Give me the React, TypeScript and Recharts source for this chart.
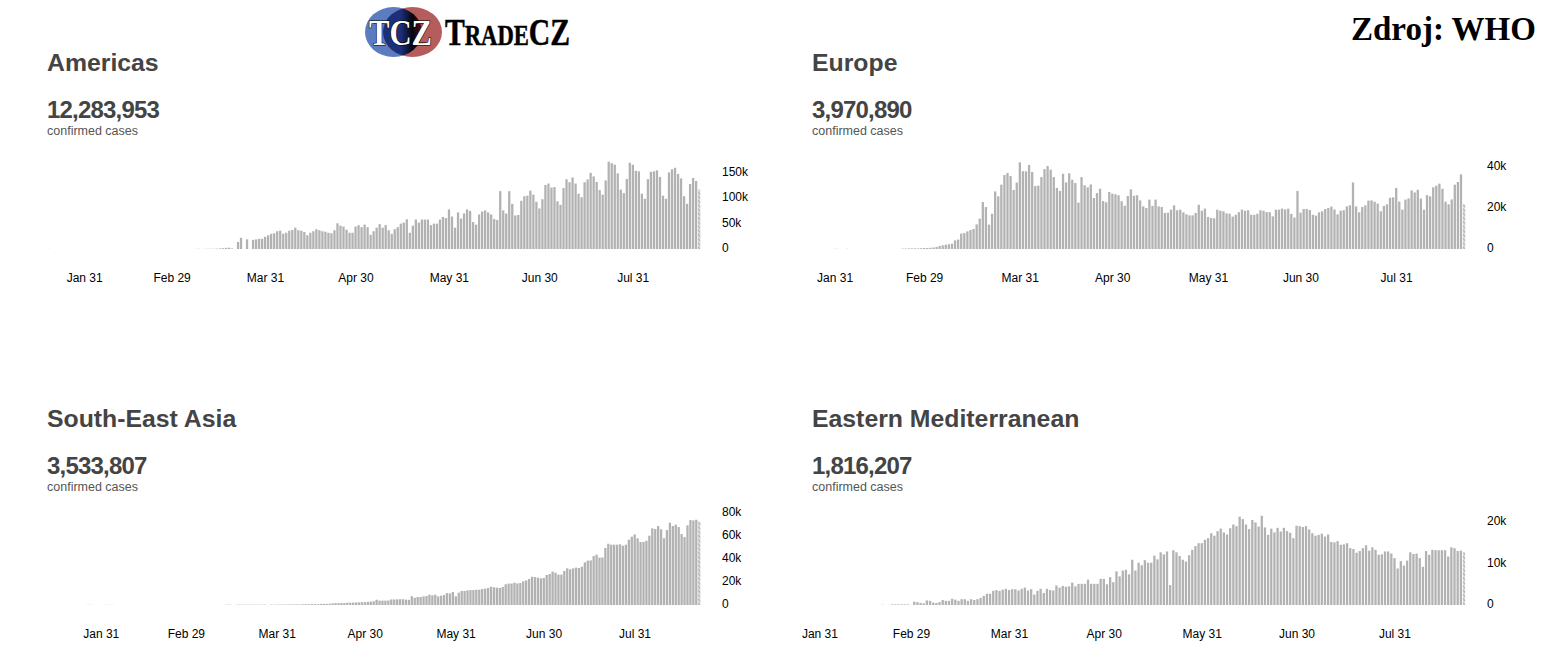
import { BarChart, Bar, Cell, XAxis, YAxis } from 'recharts';

// daily new cases per region, in thousands
const americasCases = [
  0.3, 0, 0, 0, 0, 0, 0, 0, 0, 0,
  0, 0, 0, 0, 0, 0, 0, 0, 0, 0,
  0, 0, 0, 0, 0, 0, 0, 0, 0, 0,
  0, 0, 0, 0, 0, 0, 0, 0, 0, 0,
  0, 0, 0, 0, 0, 0, 0, 0, 0,
  0.3, 0.4, 0, 0.4, 0.4, 0.5, 0.6, 0.7, 1.2, 1.6, 2.2, 2.6, 1.2, 0,
  14, 22, 0, 19, 0, 18,
  19, 20, 20, 24, 27, 30, 31, 35, 36, 30, 32, 36, 37.5, 42, 37, 36, 33.5, 27, 32, 35,
  39, 37, 35, 34, 32, 31, 37, 50.6, 46, 44, 38, 32, 32, 44, 47, 43, 48, 43, 28, 35,
  42, 49, 42, 47, 37, 30, 39, 43, 50, 52, 58.5, 32, 46, 58, 52, 58, 58, 58, 47, 50,
  50, 58, 63, 61, 78, 64, 42, 72, 60, 70, 78, 75, 53, 48, 68, 74, 76, 72, 68, 59, 57,
  114, 76, 70, 114, 89, 66, 67, 95, 104, 105, 115, 107, 93, 80, 98, 126, 129, 121, 122, 94,
  87, 120, 137.5, 131.5, 141, 129, 109, 102, 131.5, 137, 150, 143, 132, 116, 107, 135, 172, 169, 166, 149,
  117, 110, 138, 170, 166, 154, 153, 109, 99, 137.5, 152, 153, 155, 142, 105, 99, 151, 157, 160, 148,
  139, 104, 89, 128, 140, 134, 117,
];

const europeCases = [
  0, 0, 0, 0, 0, 0, 0, 0.1, 0.05, 0,
  0, 0.1, 0, 0, 0, 0, 0, 0, 0, 0,
  0, 0, 0, 0, 0, 0, 0, 0, 0,
  0.2, 0.2, 0.3, 0.3, 0.3, 0.3, 0.4, 0.5, 0.5, 0.6, 0.7,
  1, 1.5, 1.8, 2.1, 2.3, 2.6, 4.2, 4.6, 7.5, 7.8, 8.6, 9.3, 9.8, 12, 14.8, 22.9, 20.5, 11.9, 17.2, 28.1,
  25.7, 31.4, 36.1, 37.1, 35.6, 28.8, 32.4, 42.3, 38, 37.9, 41, 37.6, 30.7, 30.9, 35.1, 39, 40.5, 38.7, 35.1, 29.8,
  28.3, 36.7, 32.5, 36.9, 33.8, 32.2, 22.6, 35.1, 31.1, 30.1, 31.5, 24.9, 27.3, 29.4, 23.4, 22.8, 27.8, 27, 26.7, 26.2,
  23.3, 21.1, 25.9, 29.1, 26, 26.2, 23.7, 20.8, 20, 24.1, 21, 24.1, 20.8, 20.5, 17.6, 17.7, 19.2, 21.3, 18.9, 19.2,
  17.9, 16.9,
  16.4, 16.4, 17.6, 21.6, 18.7, 19.7, 15.6, 15.1, 15, 19.2, 18.7, 18.4, 17.4, 17.2, 15.8, 16.7, 18, 19.2, 18.7, 18.9,
  16.7, 16.7, 17.2, 18.9, 18.7, 18, 18, 15.9, 19.2, 19.2, 19.7, 19.3, 19.7, 17.1, 15.4, 28.3, 17.7, 19.5, 19.5, 19,
  16.7, 16.3, 17.9, 18.4, 19.5, 20, 20.7, 19.3, 16.9, 18.7, 18.9, 20.8, 21.3, 32.5, 20.8, 17.9, 20.5, 21.3, 23.6, 23.7,
  23.1, 22.1, 18.4, 21, 21.8, 25, 25.2, 29.8, 23.1, 19.2, 24.1, 24.7, 28.6, 27.6, 28.9, 24.6, 19.2, 26.3, 25.7, 30.1,
  30.9, 31.9, 29.4, 23.1, 21.8, 24.2, 31.4, 32.7, 36.4, 21.8,
];

const seAsiaCases = [
  0, 0, 0, 0, 0, 0, 0, 0, 0, 0,
  0, 0, 0, 0.1, 0.1, 0.1, 0, 0, 0, 0,
  0.1, 0.1, 0.1, 0, 0, 0, 0, 0, 0, 0,
  0, 0, 0, 0, 0, 0, 0, 0, 0, 0,
  0, 0, 0, 0, 0, 0, 0, 0, 0, 0,
  0, 0, 0, 0, 0, 0, 0, 0, 0, 0,
  0,
  0.3, 0.3, 0, 0.2, 0.3, 0.3, 0.3, 0.3, 0.3, 0.3, 0.3, 0.3, 0.3, 0.3, 0, 0.3, 0.3, 0.3, 0.4,
  0.4, 0.4, 0.4, 0.5, 0.5, 0.5, 0.5, 0.6, 0.7, 0.7, 0.8, 0.8, 0.8, 0.9, 0.9, 1, 1.1, 1.5, 1.6, 1.6,
  1.7, 1.7, 2, 2, 2.1, 2.2, 2.3, 2.4, 2.5, 2.7, 3, 3.2, 4.6, 3.8, 3.8, 3.8, 3.9, 4.8, 4.8, 4.9,
  5, 5, 4.7, 4.5, 7.6, 6.2, 7,
  7, 7.5, 7.8, 9, 8.4, 9, 7.5, 8.1, 8.7, 10.4, 10.1, 11.3, 7.5, 10.7, 12.2, 12.2, 12.8, 13, 13, 13.3,
  13.3, 13.9, 14.2, 14.8, 15.9, 15.4, 15.1, 14.8, 15.7, 18, 18.6, 18.6, 19.4, 18.8, 19.1, 20.6, 21.4, 22.6, 24.6, 24.3,
  23.8, 23.2, 23.5, 26.1, 27, 29, 28.1, 26.4, 26.4, 29.6, 31.9, 31, 31.9, 32.5, 32.2, 33.3, 37.1, 38.6, 38.8, 42.6,
  43.8, 41.2, 41.4, 49.6, 53.3, 52.5, 52.5, 52.5, 52.8, 51.6, 52.5, 56.8, 59.4, 61.4, 58, 54.8, 54.8, 55.9, 60.3, 66.7, 66.1,
  68.7, 65.8, 58, 65.2, 71.6, 68.7, 69.9, 67.8, 61.7, 59.1, 69.3, 73.9, 73.6, 74.2, 72.5,
];

const eastMedCases = [
  0, 0, 0, 0, 0, 0, 0, 0, 0, 0,
  0, 0, 0, 0, 0, 0, 0, 0, 0, 0,
  0, 0, 0.05, 0, 0, 0.15, 0.15, 0.15, 0.15, 0.15,
  0.15, 0,
  0.8, 0.7, 0.5, 0.4, 1.1, 1, 0.6, 0.5, 0.7, 1.2, 1, 1, 1.5, 1.3, 1, 1.4, 1.4, 1, 1.4, 1.2,
  1.4, 1.7, 2.2, 2.7, 2.7, 3.4, 3.6, 3.4, 3.7, 3.9, 3.6, 3.8, 3.8, 3.5, 3.9, 4.2, 3.5, 3.8, 2.5, 3.4,
  3.9, 2.9, 3.9, 3.6, 3.5, 4.7, 4.2, 4.6, 4.4, 4.5, 5.4, 4.5, 5.1, 5.1, 5.1, 6.1, 5.1, 5.1, 5.1, 6.3,
  6.3, 5, 6.7, 5.5, 8.1, 6.9, 8.3, 8.5, 7.4, 10.9, 8.3, 10.2, 9.6, 10.8, 10.2, 10.2, 11.9, 11, 12.7, 12.2,
  12.9, 4.8, 13.2, 12.7,
  11.8, 10.9, 10.5, 12, 13.3, 14.2, 14.9, 14.9, 15.7, 16.1, 17.3, 16.7, 17.8, 18.4, 17.5, 17, 18.5, 19.4, 19, 21.3,
  20.7, 19.4, 18.3, 20.5, 19.9, 18.9, 21.5, 18.7, 16.9, 18.4, 17.5, 18.6, 17.7, 18.6, 17.8, 17.4, 16.1, 19.1, 19, 18.8,
  19, 18.2, 17.3, 16.7, 16.9, 17.2, 16.5, 17, 15.2, 15.1, 15.4, 14.5, 14.6, 14.9, 13.7, 13.5, 12.6, 13, 13.7, 14.4,
  13.1, 13.9, 13.3, 12.1, 12.2, 12.9, 12.9, 12.4, 11.3, 8.8, 10.6, 9.5, 10.7, 12.7, 12.3, 12.4, 11.3, 9.2, 13, 12.1,
  13.3, 13.2, 13.2, 13.2, 13.2, 11.7, 13.9, 13.7, 13, 13.1, 12.7,
];

const dateTicks = ['Jan 31', 'Feb 29', 'Mar 31', 'Apr 30', 'May 31', 'Jun 30', 'Jul 31'];
const monthNames = ['Jan', 'Feb', 'Mar', 'Apr', 'May', 'Jun', 'Jul', 'Aug'];

const BAR_COLOR = '#b2b2b2';
const FONT = 'Arial, "Liberation Sans", sans-serif';
const PLOT_HEIGHT = 100;
const PLOT_WIDTH = 654;
const MARGIN_LEFT = 40;

// 2020 is a leap year, the labels need Feb 29
function dayLabel(firstDay: number, i: number): string {
  const d = new Date(2020, 0, firstDay + i);
  return `${monthNames[d.getMonth()]} ${d.getDate()}`;
}

interface PanelProps {
  title: string;
  total: string;
  cases: number[];
  firstDay: number;
  yTicks: number[];
  yMax: number;
  left: number;
  top: number;
}

function Panel({ title, total, cases, firstDay, yTicks, yMax, left, top }: PanelProps) {
  const rows = cases.map((value, i) => ({ date: dayLabel(firstDay, i), value }));
  return (
    <>
      <div style={{ position: 'absolute', left, top: top + 47, fontSize: 24.8, fontWeight: 700, lineHeight: '32px', color: '#444', fontFamily: FONT }}>
        {title}
      </div>
      <div style={{ position: 'absolute', left, top: top + 95, fontSize: 24, fontWeight: 700, letterSpacing: -0.8, lineHeight: '30px', color: '#444', fontFamily: FONT }}>
        {total}
      </div>
      <div style={{ position: 'absolute', left, top: top + 123, fontSize: 12.5, lineHeight: '16px', color: '#555', fontFamily: FONT }}>
        confirmed cases
      </div>
      <div style={{ position: 'absolute', left: left - MARGIN_LEFT, top: top + 149 }}>
        <BarChart
          width={MARGIN_LEFT + PLOT_WIDTH + 60}
          height={PLOT_HEIGHT + 40}
          data={rows}
          margin={{ top: 0, right: 0, bottom: 0, left: MARGIN_LEFT }}
          barCategoryGap={1}
        >
          <XAxis
            dataKey="date"
            ticks={dateTicks}
            interval={0}
            height={40}
            axisLine={false}
            tickLine={false}
            tickSize={0}
            tickMargin={24}
            tick={{ fontSize: 12, fill: '#000', fontFamily: FONT }}
          />
          <YAxis
            orientation="right"
            domain={[0, yMax]}
            ticks={yTicks}
            interval={0}
            width={60}
            axisLine={false}
            tickLine={false}
            tickSize={0}
            tickMargin={21}
            tickFormatter={(v: number) => (v === 0 ? '0' : `${v}k`)}
            tick={{ fontSize: 12, fill: '#000', fontFamily: FONT, textAnchor: 'start', dy: -1 }}
          />
          <Bar dataKey="value" barSize={2.3} isAnimationActive={false}>
            {rows.map((row, i) => (
              <Cell key={row.date} fill={i === rows.length - 1 ? 'url(#lastDayHatch)' : BAR_COLOR} />
            ))}
          </Bar>
        </BarChart>
      </div>
    </>
  );
}

function Logo() {
  return (
    <svg width={220} height={60} style={{ position: 'absolute', left: 360, top: 2 }}>
      <defs>
        <clipPath id="blueDisc">
          <ellipse cx={33.5} cy={30} rx={28.5} ry={25} />
        </clipPath>
        <linearGradient id="discOverlap" x1="0" x2="1" y1="0" y2="0">
          <stop offset="0.3" stopColor="#1c2f78" />
          <stop offset="0.5" stopColor="#06060f" />
          <stop offset="0.7" stopColor="#6e0c0c" />
        </linearGradient>
      </defs>
      <ellipse cx={33.5} cy={30} rx={28.5} ry={25} fill="#5b7cc0" />
      <ellipse cx={52.5} cy={30} rx={29.5} ry={25} fill="#b55c5c" />
      <ellipse cx={52.5} cy={30} rx={29.5} ry={25} fill="url(#discOverlap)" clipPath="url(#blueDisc)" />
      <text
        transform="translate(9 43) scale(0.875 1)"
        fontFamily="'Liberation Serif', serif"
        fontWeight={700}
        fontSize={35}
        fill="#fff"
        stroke="#000"
        strokeWidth={1.2}
        paintOrder="stroke"
      >
        TCZ
      </text>
      <text
        transform="translate(85 43) scale(0.78 1)"
        fontFamily="'Liberation Serif', serif"
        fontWeight={700}
        fontSize={38}
        fill="#000"
        stroke="#000"
        strokeWidth={0.5}
      >
        T<tspan fontSize={29}>RADE</tspan>CZ
      </text>
    </svg>
  );
}

export default function App() {
  return (
    <div style={{ position: 'absolute', left: 0, top: 0, width: 1560, height: 660, background: '#fff', overflow: 'hidden' }}>
      <svg width={0} height={0} style={{ position: 'absolute' }}>
        <defs>
          <pattern id="lastDayHatch" width={3} height={3} patternUnits="userSpaceOnUse" patternTransform="rotate(45)">
            <rect width={3} height={3} fill="#e4e4e4" />
            <rect width={3} height={1.5} fill={BAR_COLOR} />
          </pattern>
        </defs>
      </svg>
      <Logo />
      <div style={{ position: 'absolute', left: 1351, top: 10, fontFamily: "'Liberation Serif', serif", fontWeight: 700, fontSize: 33, lineHeight: '38px', color: '#000' }}>
        Zdroj: WHO
      </div>
      <Panel title="Americas" total="12,283,953" cases={americasCases} firstDay={19} yTicks={[0, 50, 100, 150]} yMax={197} left={47} top={0} />
      <Panel title="Europe" total="3,970,890" cases={europeCases} firstDay={24} yTicks={[0, 20, 40]} yMax={48.8} left={812} top={0} />
      <Panel title="South-East Asia" total="3,533,807" cases={seAsiaCases} firstDay={13} yTicks={[0, 20, 40, 60, 80]} yMax={87} left={47} top={356} />
      <Panel title="Eastern Mediterranean" total="1,816,207" cases={eastMedCases} firstDay={29} yTicks={[0, 10, 20]} yMax={24.1} left={812} top={356} />
    </div>
  );
}
